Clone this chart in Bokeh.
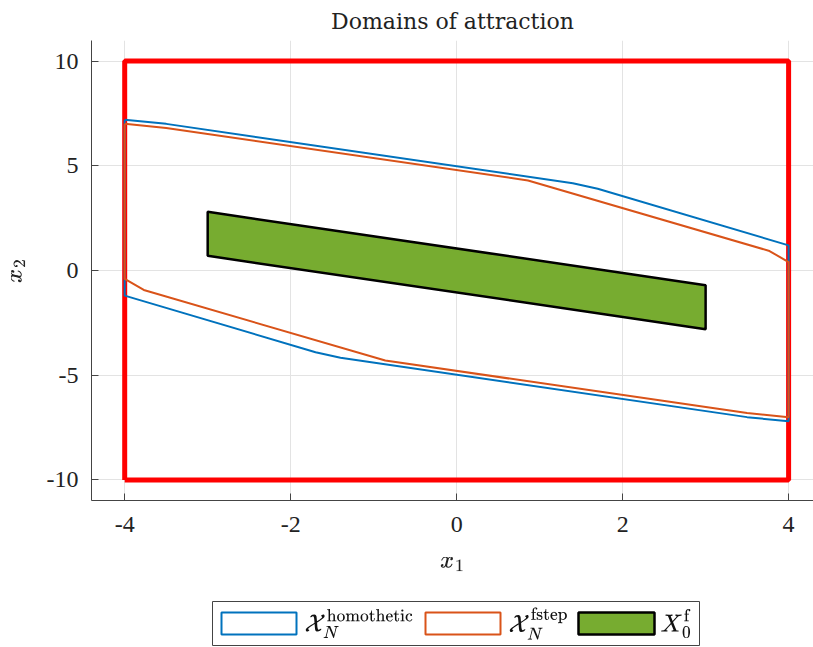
from bokeh.plotting import figure
from bokeh.layouts import column
from bokeh.models import Range1d, FixedTicker, TeX, Label
from bokeh.embed import file_html
from bokeh.resources import INLINE

# ---- data ----
title_text = "Domains of attraction"
ticks_x = [-4, -2, 0, 2, 4]
ticks_y = [-10, -5, 0, 5, 10]

homo_x = [-4, -3.5, 1.4, 1.7, 4, 4, 3.5, -1.4, -1.7, -4, -4]
homo_y = [7.2, 7.0, 4.17, 3.9, 1.2, -7.2, -7.0, -4.17, -3.9, -1.2, 7.2]

fstep_x = [-4, -3.5, 0.86, 3.77, 4, 4, 3.5, -0.86, -3.77, -4, -4]
fstep_y = [7.0, 6.8, 4.3, 0.93, 0.4, -7.0, -6.8, -4.3, -0.93, -0.4, 7.0]

x0f_x = [-3, 3, 3, -3]
x0f_y = [2.8, -0.7, -2.8, 0.7]

box_x = [-4, 4, 4, -4, -4]
box_y = [-10, -10, 10, 10, -10]

legend_labels = [r"\mathcal{X}_N^{\text{homothetic}}", r"\mathcal{X}_N^{\text{fstep}}", r"X_0^{\text{f}}"]

BLUE = "#0072BD"
ORANGE = "#D95319"
GREEN = "#77AC30"
SERIF = "Liberation Serif"

p = figure(width=813, height=596, output_backend="svg", toolbar_location=None,
           x_range=Range1d(-4.4, 4.3), y_range=Range1d(-10.98, 10.98),
           min_border_left=91, min_border_right=0, min_border_top=40, min_border_bottom=96)
p.title.text = title_text
p.title.align = "center"
p.title.text_font = "DejaVu Serif"
p.title.text_font_size = "22px"
p.title.text_font_style = "normal"
p.title.text_color = "#222222"
p.title.offset = 4
p.title.standoff = 13
p.outline_line_color = None
p.background_fill_color = "white"
p.border_fill_color = "white"

for ax, ticks, lab in ((p.xaxis[0], ticks_x, "x_1"), (p.yaxis[0], ticks_y, "x_2")):
    ax.ticker = FixedTicker(ticks=ticks)
    ax.major_label_overrides = {t: str(t) for t in ticks}
    ax.minor_tick_line_color = None
    ax.major_tick_in = 7
    ax.major_tick_out = 0
    ax.axis_line_color = "#444444"
    ax.major_tick_line_color = "#444444"
    ax.major_label_text_font = SERIF
    ax.major_label_text_font_size = "24px"
    ax.major_label_text_color = "#222222"
    ax.axis_label = TeX(text=lab)
    ax.axis_label_text_font_size = "21px"
    ax.axis_label_text_color = "#222222"

p.xaxis[0].major_label_standoff = 16
p.xaxis[0].axis_label_standoff = 22
p.yaxis[0].major_label_standoff = 13
p.yaxis[0].axis_label_standoff = 10

p.xgrid.ticker = FixedTicker(ticks=ticks_x)
p.ygrid.ticker = FixedTicker(ticks=ticks_y)
p.grid.grid_line_color = "#e3e3e3"
p.grid.grid_line_width = 1

p.line(box_x, box_y, line_color="#FF0000", line_width=5)
p.line(homo_x, homo_y, line_color=BLUE, line_width=2)
p.line(fstep_x, fstep_y, line_color=ORANGE, line_width=2)
p.patch(x0f_x, x0f_y, fill_color=GREEN, line_color="black", line_width=2.5)

# ---- legend figure (x in page pixels) ----
lg = figure(width=813, height=51, output_backend="svg", toolbar_location=None,
            x_range=Range1d(91, 813), y_range=Range1d(0, 51),
            min_border=0, min_border_left=91, x_axis_type=None, y_axis_type=None)
lg.grid.visible = False
lg.outline_line_color = None
lg.quad(left=[212], right=[699], top=[46], bottom=[2], fill_color="white",
        line_color="#444444", line_width=1)
sw_left = [221, 425, 578]
sw_right = [296, 500, 654]
fills = [None, None, GREEN]
lines = [BLUE, ORANGE, "black"]
for l, r, f, c in zip(sw_left, sw_right, fills, lines):
    lg.quad(left=[l], right=[r], top=[35], bottom=[13],
            fill_color=f if f else "white", line_color=c, line_width=2.5 if f else 2)
text_x = [304, 508, 660]
for tx, lab in zip(text_x, legend_labels):
    lg.add_layout(Label(x=tx, y=24, text=TeX(text=lab), text_font_size="20px",
                        text_baseline="middle", text_align="left", text_color="#111111"))

out = column(p, lg, spacing=0)
open("out.html", "w").write(file_html(out, INLINE))
